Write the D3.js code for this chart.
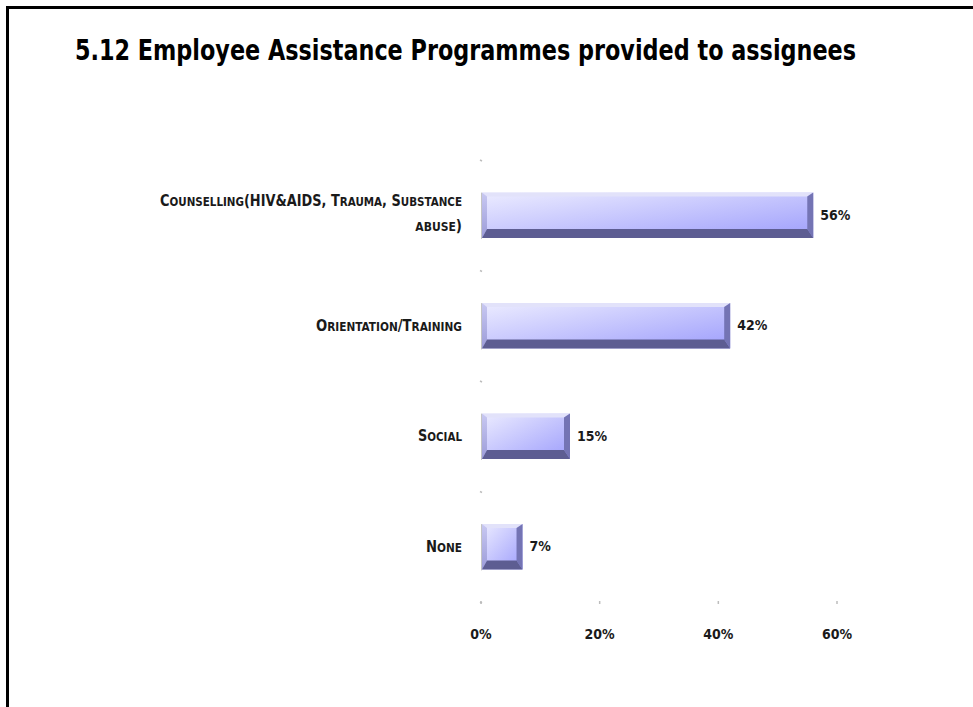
<!DOCTYPE html>
<html>
<head>
<meta charset="utf-8">
<script src="https://cdn.jsdelivr.net/npm/d3@7"></script>
<style>
  html, body { margin: 0; padding: 0; background: #fff; }
  svg { display: block; }
  .lbl { font-family: "DejaVu Sans Condensed", "DejaVu Sans", sans-serif; font-stretch: condensed; font-weight: bold; fill: #1a1a1a; }
</style>
</head>
<body>
<svg id="chart" width="973" height="707"></svg>
<script>
// Programme categories and the share of respondents providing each
const categories = ["Counselling", "Orientation/Training", "Social", "None"];
const categoryLines = [
  ["Counselling(HIV&AIDS, Trauma, Substance", "abuse)"],
  ["Orientation/Training"],
  ["Social"],
  ["None"]
];
const values = [56, 42, 15, 7];
const xTicks = [0, 20, 40, 60];
const titleText = "5.12 Employee Assistance Programmes provided to assignees";

const svg = d3.select("#chart");

// frame around the slide
svg.append("path")
  .attr("d", "M7.5,707 V7.5 H973")
  .attr("fill", "none").attr("stroke", "#000").attr("stroke-width", 3);

svg.append("text")
  .attr("class", "lbl")
  .attr("x", 75).attr("y", 60)
  .attr("font-size", 28)
  .attr("textLength", 781).attr("lengthAdjust", "spacingAndGlyphs")
  .style("fill", "#000")
  .text(titleText);

const x = d3.scaleLinear().domain([0, 60]).range([481, 837]);
const y = d3.scaleBand().domain(categories).range([160, 602]).paddingInner(0.59).paddingOuter(0.295);

// gradient for the bar faces
const defs = svg.append("defs");
const g = defs.append("linearGradient").attr("id", "face")
  .attr("x1", "0").attr("y1", "0").attr("x2", "1").attr("y2", "1");
g.append("stop").attr("offset", "0").attr("stop-color", "#ececff");
g.append("stop").attr("offset", "1").attr("stop-color", "#9e9efc");
const gl = defs.append("linearGradient").attr("id", "leftEdge")
  .attr("x1", "0").attr("y1", "0").attr("x2", "0").attr("y2", "1");
gl.append("stop").attr("offset", "0").attr("stop-color", "#c8c8f2");
gl.append("stop").attr("offset", "1").attr("stop-color", "#9c9cd8");

// category axis: small tick dots at band boundaries
const step = y.step();
const boundaries = d3.range(categories.length + 1).map(i => 160 + i * step);
svg.append("g").selectAll("line").data(boundaries).join("line")
  .attr("x1", 480).attr("x2", 482)
  .attr("y1", d => d).attr("y2", d => d + 1)
  .attr("stroke", "#bdbdbd").attr("stroke-width", 1.5);

// value axis ticks and labels
const xAxis = svg.append("g");
xAxis.selectAll("line").data(xTicks).join("line")
  .attr("x1", d => x(d)).attr("x2", d => x(d))
  .attr("y1", 601).attr("y2", 604)
  .attr("stroke", "#bdbdbd").attr("stroke-width", 1.5);
xAxis.selectAll("text").data(xTicks).join("text")
  .attr("class", "lbl")
  .attr("x", d => x(d)).attr("y", 639)
  .attr("text-anchor", "middle").attr("font-size", 14)
  .text(d => d + "%");

// bevelled bars
const bt = 4, bl = 5, bb = 9, br = 6;
const bars = svg.append("g").selectAll("g").data(values).join("g");
bars.each(function(v, i) {
  const sel = d3.select(this);
  const x0 = x(0) + 1, x1 = x(v);
  const y0 = y(categories[i]), y1 = y0 + y.bandwidth();
  const pts = a => a.map(p => p.join(",")).join(" ");
  sel.append("rect").attr("x", x0).attr("y", y0).attr("width", x1 - x0).attr("height", y1 - y0)
    .attr("fill", "url(#face)");
  sel.append("polygon").attr("points", pts([[x0, y0], [x1, y0], [x1 - br, y0 + bt], [x0 + bl, y0 + bt]]))
    .attr("fill", "#e2e2fa");
  sel.append("polygon").attr("points", pts([[x0, y0], [x0 + bl, y0 + bt], [x0 + bl, y1 - bb], [x0, y1]]))
    .attr("fill", "url(#leftEdge)");
  sel.append("polygon").attr("points", pts([[x1, y0], [x1, y1], [x1 - br, y1 - bb], [x1 - br, y0 + bt]]))
    .attr("fill", "#7474b4");
  sel.append("polygon").attr("points", pts([[x0, y1], [x0 + bl, y1 - bb], [x1 - br, y1 - bb], [x1, y1]]))
    .attr("fill", "#5d5d92");
  sel.append("line").attr("x1", x0 - 0.5).attr("x2", x0 - 0.5).attr("y1", y0).attr("y2", y1 + 1)
    .attr("stroke", "#c4c4c4").attr("stroke-width", 1);
  sel.append("text").attr("class", "lbl")
    .attr("x", x1 + 7).attr("y", (y0 + y1) / 2 + 4.5)
    .attr("font-size", 14)
    .text(v + "%");
});

// split a string into runs of capitals (full size) and lower case (drawn as smaller capitals)
function smallCapRuns(s) {
  const runs = [];
  for (const ch of s) {
    const small = ch !== ch.toUpperCase();
    const last = runs[runs.length - 1];
    if (last && last.small === small) last.t += ch.toUpperCase();
    else runs.push({ t: ch.toUpperCase(), small });
  }
  return runs;
}

// category labels in small caps, right-aligned to the axis
const labelWidths = [[302, null], [146], [44], [36]];
const labelGroup = svg.append("g");
categoryLines.forEach((lines, i) => {
  const cy = y(categories[i]) + y.bandwidth() / 2;
  const lh = 25;
  const top = cy - (lines.length - 1) * lh / 2 + (lines.length > 1 ? 3 : 5);
  lines.forEach((line, j) => {
    const t = labelGroup.append("text")
      .attr("class", "lbl")
      .attr("x", 462).attr("y", top + j * lh)
      .attr("text-anchor", "end")
      .attr("font-size", 15);
    if (labelWidths[i][j]) {
      t.attr("textLength", labelWidths[i][j]).attr("lengthAdjust", "spacingAndGlyphs");
    }
    t.selectAll("tspan").data(smallCapRuns(line)).join("tspan")
      .attr("font-size", d => d.small ? 12 : 15)
      .text(d => d.t);
  });
});
</script>
</body>
</html>
